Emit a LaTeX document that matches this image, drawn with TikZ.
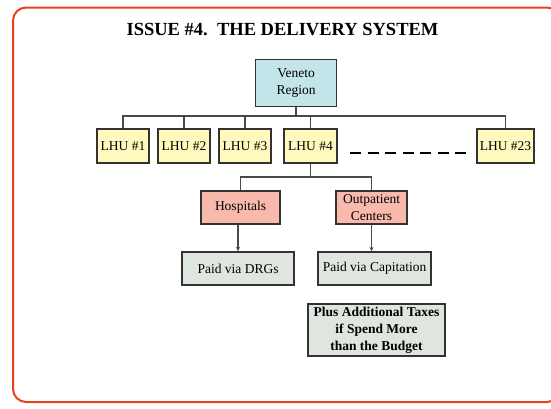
\documentclass[tikz,border=0pt]{standalone}
\usepackage{fontspec}
\setmainfont{Liberation Serif}
\usetikzlibrary{arrows.meta}
\definecolor{frameRed}{HTML}{E8401C}
\definecolor{boxLine}{HTML}{333333}
\definecolor{connLine}{HTML}{4A4A4A}
\definecolor{venetoFill}{HTML}{C3E4E8}
\definecolor{lhuFill}{HTML}{FFF9BE}
\definecolor{hospFill}{HTML}{F9B9AD}
\definecolor{paidFill}{HTML}{DFE6E0}
\tikzset{
  orgbox/.style={draw=boxLine, line width=1.4pt, inner sep=1pt, align=center,
    font=\fontsize{13.5}{17}\selectfont},
  venetobox/.style={orgbox, fill=venetoFill, minimum width=81pt, minimum height=47pt},
  lhubox/.style={orgbox, fill=lhuFill, minimum height=34pt},
  hospbox/.style={orgbox, fill=hospFill, minimum height=33pt},
  paidbox/.style={orgbox, fill=paidFill, minimum height=33pt},
  conn/.style={draw=connLine, line width=1.2pt},
  arr/.style={conn, -{Stealth[length=4.5pt,width=4pt]}},
}
\begin{document}
\begin{tikzpicture}[x=1pt,y=-1pt]
\useasboundingbox (0,0) rectangle (551,408);
\draw[frameRed, line width=2pt, rounded corners=13pt] (13,7.5) rectangle (560,402);
\node[font=\fontsize{18.5}{20}\selectfont\bfseries] (title) at (282.5,30) {ISSUE \#4.\ \ THE DELIVERY SYSTEM};
\node[venetobox] (veneto) at (296,83) {Veneto\\Region};
\node[lhubox, minimum width=52pt] (l1) at (123,146) {LHU \#1};
\node[lhubox, minimum width=52pt] (l2) at (184,146) {LHU \#2};
\node[lhubox, minimum width=52pt] (l3) at (245,146) {LHU \#3};
\node[lhubox, minimum width=53pt] (l4) at (310.5,146) {LHU \#4};
\node[lhubox, minimum width=57pt] (l23) at (505.5,146) {LHU \#23};
\coordinate (busL) at (123,116);
\coordinate (busR) at (505.5,116);
\draw[conn] (veneto.south) -- (veneto.south |- busL);
\draw[conn] (l1.north) -- (busL) -- (busR) -- (l23.north);
\draw[conn] (l2.north) -- (l2.north |- busL);
\draw[conn] (l3.north) -- (l3.north |- busL);
\draw[conn] (l4.north) -- (l4.north |- busL);
\coordinate (dashA) at (350,152.7);
\coordinate (dashB) at (470,152.7);
\draw[black, line width=2.3pt, dash pattern=on 11pt off 6.5pt] (dashA) -- (dashB);
\node[hospbox, minimum width=79pt] (hosp) at (240.5,207.5) {Hospitals};
\node[hospbox, minimum width=71pt] (outp) at (371.5,207.5) {Outpatient\\Centers};
\coordinate (bus2) at (0,177);
\draw[conn] (l4.south) -- (l4.south |- bus2);
\draw[conn] (hosp.north) -- (hosp.north |- bus2) -- (outp.north |- bus2) -- (outp.north);
\node[paidbox, minimum width=112pt] (drg) at (238,268.5) {Paid via DRGs};
\node[paidbox, minimum width=113pt] (cap) at (374.5,268.5) {Paid via Capitation};
\draw[arr] (hosp.south -| drg.north) -- (drg.north);
\draw[arr] (outp.south) -- (outp.south |- cap.north);
\node[paidbox, minimum width=137pt, minimum height=52pt, font=\fontsize{13.5}{17}\selectfont\bfseries] (plus) at (376.5,330) {Plus Additional Taxes\\if Spend More\\than the Budget};
\end{tikzpicture}
\end{document}
